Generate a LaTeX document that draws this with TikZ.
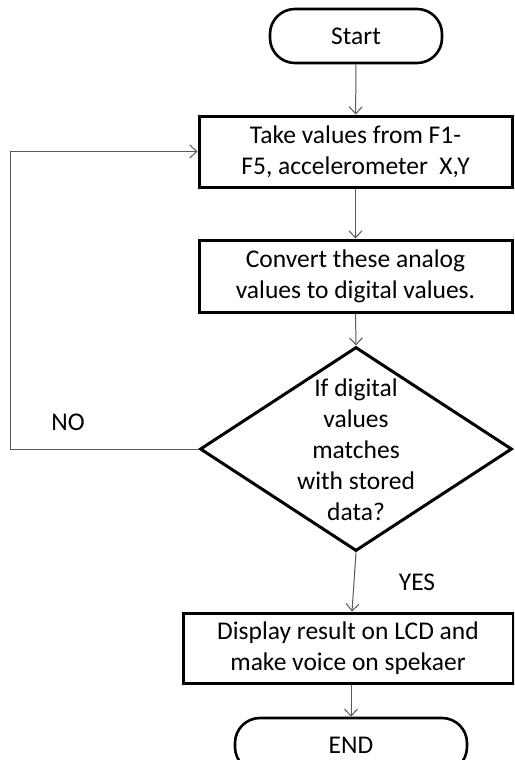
\documentclass[tikz,border=0pt]{standalone}
\usepackage{fontspec}
\setmainfont{Carlito}
\usetikzlibrary{shapes.geometric,arrows.meta}

\tikzset{
  chartfont/.style={font=\fontsize{25.5}{31}\selectfont},
  terminal/.style={draw=black, line width=2.6pt, rounded corners=25pt,
    minimum height=54pt, inner sep=0pt, chartfont},
  process/.style={draw=black, line width=3pt, minimum width=313pt,
    minimum height=71pt, inner sep=0pt, align=center, chartfont},
  decision/.style={draw=black, line width=3pt, shape=diamond,
    minimum width=312pt, minimum height=204pt, inner sep=0pt},
  plaintext/.style={inner sep=0pt, align=center, chartfont},
  conn/.style={draw=black!65, line width=1pt,
    -{Straight Barb[length=7pt,width=13pt,line width=1pt]}},
}

\begin{document}
\begin{tikzpicture}[x=1pt,y=-1pt]
  % page frame
  \fill[white] (0,0) rectangle (514,760);
  \useasboundingbox (0,0) rectangle (514,760);
  \clip (0,0) rectangle (514,760);

  % flow chart nodes
  \node[terminal, minimum width=172pt] (start) at (356,36) {Start};
  \node[process] (take) at (355.5,151.5)
    {Take values from F1-\\F5, accelerometer\ \ X,Y};
  \node[process, minimum height=72pt] (conv) at (355.5,276)
    {Convert these analog\\values to digital values.};
  \node[decision] (dec) at (356,449) {};
  \node[plaintext] (dectext) at (356,450)
    {If digital\\values\\matches\\with stored\\data?};
  \node[process, minimum width=330pt, minimum height=70pt] (disp) at (348,648)
    {Display result on LCD and\\make voice on spekaer};
  \node[terminal, minimum width=232pt] (stop) at (351,745) {END};

  % branch labels
  \node[plaintext] (nolabel) at (68,422) {NO};
  \node[plaintext] (yeslabel) at (417,582) {YES};

  % connectors
  \coordinate (loopcorner) at (10,449);
  \draw[conn] (start) -- (take);
  \draw[conn] (take) -- (conv);
  \draw[conn] (conv.south) -- (dec.north);
  \draw[conn] (dec.south) -- ([xshift=4pt]disp.north);
  \draw[conn] (stop.north |- disp.south) -- (stop.north);
  \draw[conn] (dec.west) -- (loopcorner) |- (take.west);
\end{tikzpicture}
\end{document}
